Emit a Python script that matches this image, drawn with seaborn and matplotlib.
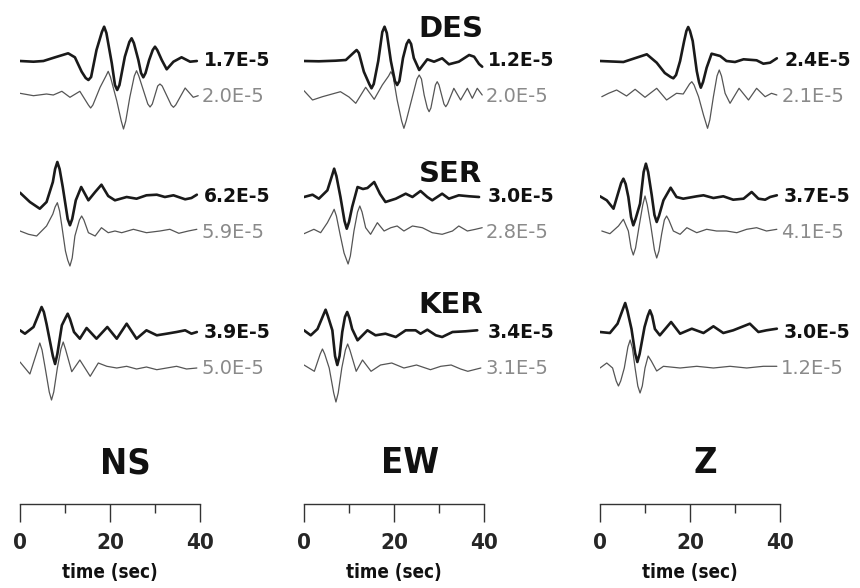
import numpy as np
import matplotlib
matplotlib.use('Agg')
import matplotlib.pyplot as plt
import seaborn as sns

sns.set_style('white')
plt.rcParams['font.family'] = ['Liberation Sans', 'DejaVu Sans']
narrow = ['Liberation Sans Narrow', 'DejaVu Sans']

# componentes e estações
components = ['NS', 'EW', 'Z']
stations = ['DES', 'SER', 'KER']

# amplitudes máximas (observado / sintético), por estação e componente
obs_labels = [['1.7E-5', '1.2E-5', '2.4E-5'],
              ['6.2E-5', '3.0E-5', '3.7E-5'],
              ['3.9E-5', '3.4E-5', '3.0E-5']]
syn_labels = [['2.0E-5', '2.0E-5', '2.1E-5'],
              ['5.9E-5', '2.8E-5', '4.1E-5'],
              ['5.0E-5', '3.1E-5', '1.2E-5']]

# sismogramas: tempo (s) e deslocamento (unid. relativa)
des_ns_obs_t = [0, 3.0, 5.2, 7.8, 10.7, 12.2, 13.7, 14.6, 15.2, 15.8, 17.0, 18.2, 18.7, 19.2, 20.4, 21.1, 21.6, 22.1, 23.3, 24.3, 24.8, 25.3, 26.3, 26.9, 27.4, 27.9, 28.7, 29.5, 30.0, 30.5, 31.5, 32.6, 34.1, 35.9, 37.8, 39.3]
des_ns_obs_a = [0, -0.7, 0, 3.7, 7.7, 3.7, -10.7, -17, -19, -16, 11, 29, 34.3, 28, -2.3, -24, -29, -24, 4.3, 19, 22.7, 18, 1, -12, -16.3, -12, 1, 11, 14.3, 11, 1, -8.3, -0.7, 3.7, -0.7, 0]
des_ns_syn_t = [0, 3.0, 5.9, 7.4, 9.3, 11.1, 13.3, 15.2, 15.7, 16.2, 17.8, 19.1, 19.6, 20.1, 21.5, 22.5, 23.0, 23.5, 24.4, 25.4, 25.9, 26.4, 27.4, 28.4, 28.9, 29.4, 30.6, 31.1, 31.6, 33.6, 34.1, 34.6, 36.7, 38.5, 39.6]
des_ns_syn_a = [1.7, -0.7, 1, 0, 3.7, -2.3, 3.7, -10, -13, -10, 7.7, 19, 23.7, 18, -5.7, -26, -34, -26, -2.3, 19, 24.3, 19, 5, -9, -12, -9, 9, 11, 9, -10, -12.3, -10, 7, -2.3, -0.7]

des_ew_obs_t = [0, 3.3, 7.0, 9.3, 11.2, 11.7, 12.2, 13.3, 14.5, 15.0, 15.5, 16.5, 17.4, 17.9, 18.4, 19.3, 20.2, 20.7, 21.2, 22.0, 22.8, 23.3, 23.8, 24.4, 25.6, 27.4, 28.9, 30.7, 32.2, 34.4, 36.7, 37.8, 38.9, 39.6]
des_ew_obs_a = [0, -0.3, 0.3, 1, 9, 11, 8, -10.7, -23, -27.3, -23, 0, 29, 34.3, 28, 0, -20, -24, -20, 3, 17, 21, 17, 3, -9, 1.7, -0.7, 2.7, -3.3, -0.7, 6, 4.3, -3, -5.7]
des_ew_syn_t = [0, 1.9, 4.1, 8.1, 10.0, 11.5, 13.7, 15.6, 17.4, 18.8, 19.3, 19.8, 20.7, 21.7, 22.2, 22.7, 23.9, 25.1, 25.6, 26.1, 26.7, 27.4, 27.8, 28.2, 29.2, 29.6, 30.0, 31.1, 31.5, 31.9, 33.3, 34.8, 36.3, 37.4, 38.5, 39.6]
des_ew_syn_a = [4.3, -5, -1.7, 3.3, -2, -8.3, 7.7, -4.3, 10, 19, 23.3, 19, -5, -26, -33.3, -26, -5, 16, 20, 16, 0, -13, -16.7, -13, 10, 13.3, 10, -9, -11.7, -9, 6.7, -5, 6.7, -3.3, 6.7, 0]

des_z_obs_t = [0, 5.2, 8.1, 10.4, 12.6, 14.4, 15.7, 16.3, 16.9, 17.8, 18.7, 19.2, 19.6, 20.0, 20.6, 21.5, 22.0, 22.4, 22.9, 23.7, 24.8, 26.7, 28.1, 30.0, 31.9, 34.8, 36.3, 37.8, 39.3]
des_z_obs_a = [0, -1, 3.3, 6.7, -1.7, -12, -16, -17.3, -14, 0, 20, 30, 34, 30, 20, -10, -21, -26.7, -21, -6.7, 7.3, 5, 0, -1, 1.7, 0.7, -2.7, -1.7, 2.7]
des_z_syn_t = [0.4, 1.9, 3.7, 5.9, 7.8, 10.0, 12.6, 14.8, 17.0, 18.5, 19.9, 20.4, 20.9, 21.9, 23.0, 23.9, 24.4, 25.2, 26.0, 26.5, 27.0, 27.8, 28.9, 30.9, 33.0, 34.8, 36.7, 38.1, 39.3]
des_z_syn_a = [-1.7, 1.7, 5, -1, 5.7, -2.3, 6.7, -5, 1.7, 1, 11, 13.3, 10, -1.7, -20, -33.3, -25, -1.7, 19, 25, 19, 1.7, -8.3, 6.7, -5, 6.7, -1.7, 1.7, 0]

ser_ns_obs_t = [0, 2.2, 4.4, 5.9, 7.3, 7.8, 8.3, 8.8, 9.5, 10.6, 11.1, 11.6, 12.4, 13.6, 15.2, 16.7, 18.1, 19.6, 21.1, 23.7, 25.9, 28.1, 30.4, 32.2, 34.1, 36.7, 38.1, 39.3]
ser_ns_obs_a = [4.3, -5, -11.7, -5, 15, 28, 35, 28, 10, -22, -28.3, -22, -3.3, 10, -3.3, 5, 12.3, 1, -3.3, 0, -1.7, 1.7, 2.3, 0, 1.7, -2.3, -1, 2.3]
ser_ns_syn_t = [0, 1.9, 3.7, 5.9, 7.3, 7.8, 8.3, 8.8, 9.3, 10.1, 10.6, 11.1, 11.6, 12.2, 13.2, 13.7, 14.2, 15.2, 16.7, 18.1, 19.6, 21.1, 22.6, 25.2, 28.1, 31.1, 33.3, 35.3, 37.4, 39.3]
ser_ns_syn_a = [0, -3.3, -5, 5, 17, 24, 28.3, 20, 5, -20, -29, -35, -27, -5, 11, 15, 11, -1.7, -5, 3.3, -1.7, 0, -1.7, 1.7, -1.7, 0, 1.7, -2.3, 0, 1.7]

ser_ew_obs_t = [0, 1.9, 3.3, 5.2, 6.2, 6.7, 7.2, 8.1, 9.0, 9.5, 10.0, 10.7, 11.9, 13.1, 14.1, 15.6, 16.9, 18.1, 20.4, 22.6, 24.1, 25.9, 27.4, 28.5, 30.7, 32.2, 34.4, 36.7, 38.9]
ser_ew_obs_a = [0, 2.3, -1.7, 6.7, 21, 28.3, 21, 0, -24, -31.7, -25, -10, 10, 8, 9, 15, 3, -5, -1.7, 3.3, 0, 6, 0, -3.3, 3.3, -1.7, 1.7, 0.7, 0]
ser_ew_syn_t = [0, 2.2, 3.7, 5.2, 6.2, 6.7, 7.2, 8.0, 8.9, 9.8, 10.3, 11.1, 11.9, 12.4, 12.9, 13.7, 14.8, 16.3, 17.8, 19.3, 20.7, 22.2, 24.1, 26.3, 28.5, 30.7, 33.0, 34.4, 36.3, 38.1, 39.6]
ser_ew_syn_a = [-2.7, 1.7, -1.7, 8.3, 17, 21.7, 15, -3, -22, -33, -25, 0, 19, 25, 19, 3.3, -3.3, 8.3, 0, 3.3, 5, 0, 5, 3.3, -1.7, -3.3, 0, 5, 0, 1.7, 3.3]

ser_z_obs_t = [0, 1.5, 3.0, 4.1, 4.7, 5.2, 5.7, 6.3, 6.9, 7.4, 7.9, 8.9, 9.7, 10.2, 10.7, 11.5, 12.1, 12.6, 13.1, 14.1, 15.7, 17.0, 18.5, 21.5, 23.0, 25.2, 27.4, 29.6, 31.9, 33.7, 35.2, 36.7, 37.8, 39.3]
ser_z_obs_a = [0.7, -3.3, -11.7, 5, 14, 18.3, 13, 0, -20, -28.3, -22, -6.7, 25, 33.3, 25, 1.7, -18, -25, -19, -3.3, 9.3, 0, -1.7, 0.7, 1.7, -1, 0.7, -2.7, -1.7, 5, -1.7, -2.7, 0, 1.7]
ser_z_syn_t = [0.4, 2.2, 4.1, 5.2, 6.3, 6.9, 7.4, 7.9, 8.7, 9.5, 10.0, 10.5, 11.3, 12.1, 12.6, 13.1, 13.7, 14.3, 14.8, 15.3, 16.3, 17.8, 19.3, 21.5, 23.7, 25.9, 28.1, 30.4, 32.6, 34.8, 37.0, 39.3]
ser_z_syn_a = [0, -2.7, 5, 11.7, 0, -17, -24, -17, 5, 26, 35, 26, 5, -19, -27, -20, -3, 11, 15, 11, 0, -3.3, 3.3, -1.7, 1.7, 0, 0, -1.7, 1.7, 3.3, 0, 1.7]

ker_ns_obs_t = [0, 1.1, 3.0, 3.9, 4.8, 5.3, 5.9, 7.3, 7.8, 8.3, 9.3, 10.1, 10.6, 11.1, 12.0, 13.3, 14.8, 17.0, 19.4, 21.5, 23.7, 25.9, 28.1, 30.4, 32.6, 34.8, 36.7, 38.1, 39.3]
ker_ns_obs_a = [1.7, -1.7, 5, 15, 25, 20, 8, -24, -32, -22, 6.7, 14, 18.3, 13, 0, -6.7, 4, -6.7, 5, -6.7, 8.3, -6.7, 1.7, -3.3, -1.7, 0, 1.7, -1.7, 0]
ker_ns_syn_t = [0, 2.2, 3.9, 4.4, 4.9, 5.6, 6.5, 7.0, 7.5, 8.3, 9.1, 9.6, 10.1, 11.5, 13.3, 15.6, 17.4, 19.3, 21.5, 23.7, 25.9, 28.1, 30.4, 32.6, 34.8, 37.0, 39.3]
ker_ns_syn_a = [6, -6, 18, 25, 18, 0, -24, -32, -24, 0, 19, 26, 19, -3.7, 8, -8.3, 5, 1.7, 0, 1.7, -1, 1, -1.7, 0, 1.7, -1, 0]

ker_ew_obs_t = [0, 1.5, 3.0, 4.3, 4.8, 5.3, 6.3, 6.9, 7.4, 7.9, 8.5, 9.1, 9.6, 10.1, 10.7, 11.9, 14.1, 15.9, 18.1, 20.4, 22.6, 24.8, 25.9, 27.4, 29.3, 30.7, 33.0, 35.9, 38.5]
ker_ew_obs_a = [1.7, -3.3, 3, 17, 22.3, 16, 1.7, -24, -33, -24, 0, 15, 20, 14, 3, -8.3, 1.7, -3.3, -1.7, -5, 1.7, 1.7, -1.7, 2.3, -3.3, -5, 0, 0.7, 1.7]
ker_ew_syn_t = [0, 2.3, 3.6, 4.1, 4.6, 5.6, 6.6, 7.1, 7.6, 8.4, 9.2, 9.7, 10.2, 11.6, 13.0, 14.9, 17.0, 19.5, 22.2, 25.0, 28.1, 30.4, 32.7, 34.8, 36.4, 39.3]
ker_ew_syn_a = [3, -3.3, 14, 19, 14, 0, -25, -34, -25, 0, 18, 24, 18, -3.3, 8, -3.3, 3, 5, 0, 3, -1.7, 1.7, 3, -1, -3.3, 0]

ker_z_obs_t = [0, 2.2, 3.9, 5.1, 5.6, 6.1, 7.0, 7.8, 8.3, 8.8, 9.9, 10.6, 11.1, 11.6, 12.2, 13.3, 15.8, 17.8, 20.4, 23.0, 25.2, 27.4, 29.6, 33.3, 35.2, 37.0, 39.3]
ker_z_obs_a = [0, -1, 8.3, 23, 29, 21, 3, -21, -30, -22, 5, 16, 21.7, 16, 3, -3.3, 10, -1.7, 3.3, -1, 5.7, -1, 1.7, 8.3, 0, 1.7, 3.3]
ker_z_syn_t = [0, 1.5, 2.8, 3.6, 4.1, 4.6, 5.4, 6.2, 6.7, 7.2, 7.8, 8.4, 8.9, 9.4, 10.0, 10.7, 11.4, 12.6, 14.1, 17.8, 21.5, 25.2, 28.9, 32.6, 36.3, 39.3]
ker_z_syn_a = [0, 5, 0, -13, -18, -13, 0, 21, 28, 20, 0, -18, -25, -18, 0, 12, 7, -3, 1.7, 0, 1.7, 0, 1.7, 0, 1.7, 1.7]

traces = [
    [(des_ns_obs_t, des_ns_obs_a, des_ns_syn_t, des_ns_syn_a),
     (des_ew_obs_t, des_ew_obs_a, des_ew_syn_t, des_ew_syn_a),
     (des_z_obs_t, des_z_obs_a, des_z_syn_t, des_z_syn_a)],
    [(ser_ns_obs_t, ser_ns_obs_a, ser_ns_syn_t, ser_ns_syn_a),
     (ser_ew_obs_t, ser_ew_obs_a, ser_ew_syn_t, ser_ew_syn_a),
     (ser_z_obs_t, ser_z_obs_a, ser_z_syn_t, ser_z_syn_a)],
    [(ker_ns_obs_t, ker_ns_obs_a, ker_ns_syn_t, ker_ns_syn_a),
     (ker_ew_obs_t, ker_ew_obs_a, ker_ew_syn_t, ker_ew_syn_a),
     (ker_z_obs_t, ker_z_obs_a, ker_z_syn_t, ker_z_syn_a)],
]

# layout (pixels da figura 860x588)
W, H = 860, 588
col_x0 = [20, 304, 600]
obs_base = [61, 197, 332]
syn_base = [95, 231, 368]
station_y = [37, 182, 313]

fig = plt.figure(figsize=(W / 100, H / 100), dpi=100)

for c, comp in enumerate(components):
    ax = fig.add_axes([col_x0[c] / W, 0, 180 / W, 1])
    ax.patch.set_alpha(0)
    ax.set_xlim(0, 40)
    ax.set_ylim(H, 0)

    for s in range(3):
        ot, oa, st, sa = traces[s][c]
        sns.lineplot(x=st, y=syn_base[s] - np.array(sa), ax=ax, color='#555555',
                     linewidth=0.9, sort=False, estimator=None)
        sns.lineplot(x=ot, y=obs_base[s] - np.array(oa), ax=ax, color='#1a1a1a',
                     linewidth=1.9, sort=False, estimator=None)
        ax.text(40.9, obs_base[s] + 5.5, obs_labels[s][c], ha='left', va='baseline',
                fontsize=13.5, fontweight='bold', family='DejaVu Sans', color='#111111')
        ax.text(40.3, syn_base[s] + 6.5, syn_labels[s][c], ha='left', va='baseline',
                fontsize=14, family='DejaVu Sans', color='#8a8a8a')
        if c == 1:
            ax.text(32.6, station_y[s], stations[s], ha='center', va='baseline',
                    fontsize=21, fontweight='bold', family='DejaVu Sans', color='#111111')

    # nome da componente
    ax.text(23.5, 473, comp, ha='center', va='baseline', fontsize=26,
            fontweight='bold', family=narrow, fontstretch='condensed', color='#111111')

    # barra de escala de tempo
    for side in ['left', 'right', 'top']:
        ax.spines[side].set_visible(False)
    ax.spines['bottom'].set_position(('data', 504))
    ax.spines['bottom'].set_bounds(0, 40)
    ax.spines['bottom'].set_color('#333333')
    ax.spines['bottom'].set_linewidth(1.0)
    ax.set_yticks([])
    ax.set_xticks([0, 20, 40])
    ax.set_xticks([10, 30], minor=True)
    ax.tick_params(axis='x', which='both', bottom=True)
    ax.tick_params(axis='x', which='major', direction='out', length=13, width=1.0,
                   color='#333333', pad=8, labelsize=16)
    ax.tick_params(axis='x', which='minor', direction='out', length=6.5, width=1.0,
                   color='#333333')
    for lab in ax.get_xticklabels():
        lab.set_fontfamily(narrow)
        lab.set_fontstretch('condensed')
        lab.set_fontweight('bold')
    ax.set_xlabel('')
    ax.set_ylabel('')
    ax.text(20, 578, 'time (sec)', ha='center', va='baseline', fontsize=13.5,
            fontweight='bold', family=narrow, fontstretch='condensed', color='#111111')

fig.savefig('out.png', dpi=100)
